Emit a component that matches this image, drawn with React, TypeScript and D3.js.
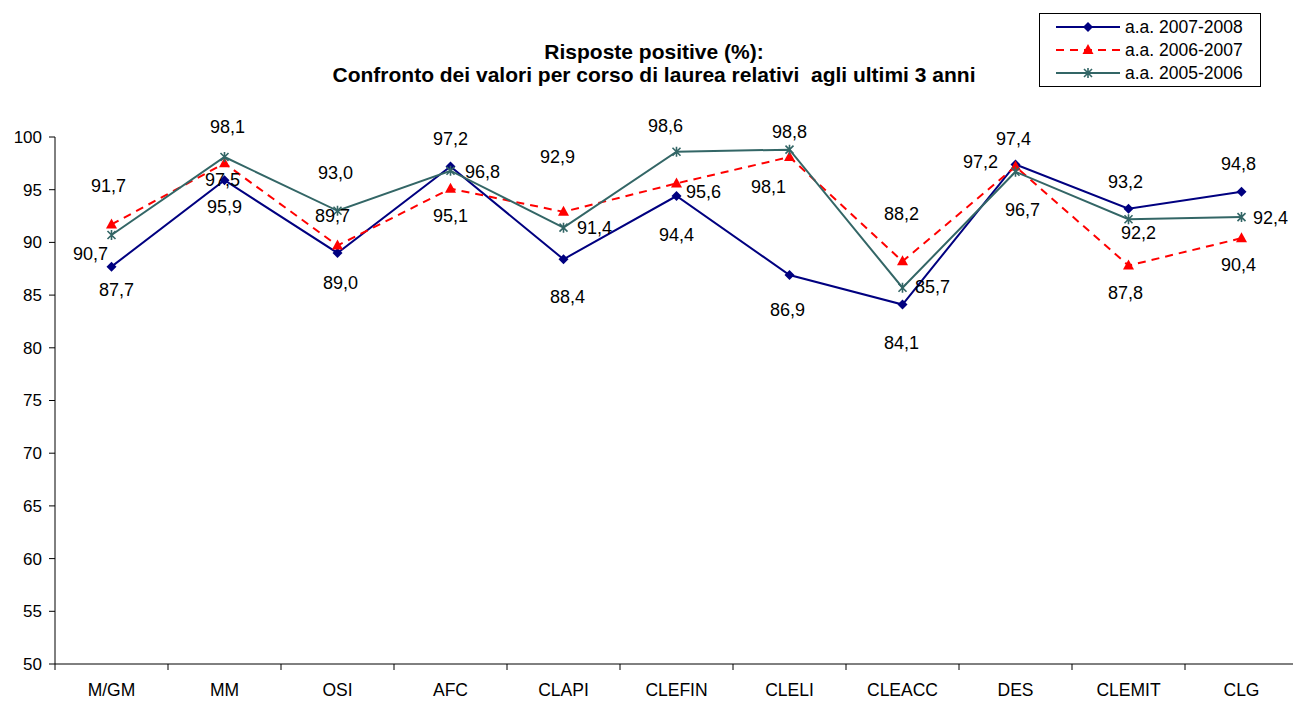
import * as d3 from "d3";

const categories = ["M/GM", "MM", "OSI", "AFC", "CLAPI", "CLEFIN", "CLELI", "CLEACC", "DES", "CLEMIT", "CLG"];
const values0708 = [87.7, 95.9, 89.0, 97.2, 88.4, 94.4, 86.9, 84.1, 97.4, 93.2, 94.8];
const values0607 = [91.7, 97.5, 89.7, 95.1, 92.9, 95.6, 98.1, 88.2, 97.2, 87.8, 90.4];
const values0506 = [90.7, 98.1, 93.0, 96.8, 91.4, 98.6, 98.8, 85.7, 96.7, 92.2, 92.4];
const seriesNames = ["a.a. 2007-2008", "a.a. 2006-2007", "a.a. 2005-2006"];
const yTicks = [50, 55, 60, 65, 70, 75, 80, 85, 90, 95, 100];

// label offsets (dx, dy) from each point, as placed in the original
const labelOffsets0708 = [[5, 23], [0, 26], [3, 30], [0, -28], [4, 37], [0, 39], [-2, 35], [-1, 38], [-2, -26], [-3, -27], [-3, -28]];
const labelOffsets0607 = [[-3, -39], [-2, 16], [-5, -30], [0, 27], [-6, -55], [27, 8], [-21, 30], [-1, -48], [-35, -5], [-3, 27], [-3, 27]];
const labelOffsets0506 = [[-21, 19], [3, -30], [-2, -38], [32, 1], [31, 0], [-11, -26], [0, -18], [30, -1], [7, 38], [10, 13], [29, 1]];

const W = 1293;
const H = 702;
const margin = { top: 137, right: -5, bottom: 38, left: 55 };
const font = "'Liberation Sans', Arial, sans-serif";

const x = d3
    .scaleBand()
    .domain(categories)
    .range([margin.left, W - margin.right]);
const y = d3
    .scaleLinear()
    .domain([50, 100])
    .range([H - margin.bottom, margin.top]);

const cx = (c: string) => (x(c) as number) + x.bandwidth() / 2;
const fmt = (v: number) => v.toFixed(1).replace(".", ",");

const series = [
    { name: seriesNames[0], values: values0708, offsets: labelOffsets0708, color: "#000080", dash: "none", marker: "diamond" },
    { name: seriesNames[1], values: values0607, offsets: labelOffsets0607, color: "#FF0000", dash: "8,6", marker: "triangle" },
    { name: seriesNames[2], values: values0506, offsets: labelOffsets0506, color: "#336666", dash: "none", marker: "star" },
];

const Marker = ({ type, color, px, py }: { type: string; color: string; px: number; py: number }) => {
    if (type === "diamond") {
        return <path d={`M${px},${py - 5}L${px + 5},${py}L${px},${py + 5}L${px - 5},${py}Z`} fill={color} />;
    }
    if (type === "triangle") {
        return <path d={`M${px},${py - 6}L${px + 5.5},${py + 4}L${px - 5.5},${py + 4}Z`} fill={color} />;
    }
    return (
        <path
            d={`M${px - 4},${py - 4}L${px + 4},${py + 4}M${px - 4},${py + 4}L${px + 4},${py - 4}M${px},${py - 5}L${px},${py + 5}`}
            stroke={color}
            strokeWidth={1.6}
            fill="none"
        />
    );
};

const App = () => {
    const line = d3
        .line<number>()
        .x((_, i) => cx(categories[i]))
        .y((d) => y(d));

    const x0 = margin.left;
    const yBase = y(50);

    return (
        <svg
            width={W}
            height={H}
            style={{ position: "absolute", left: 0, top: 0, background: "#fff" }}
            fontFamily={font}
        >
            {/* title */}
            <text x={654} y={59} textAnchor="middle" fontWeight="bold" fontSize={21}>
                Risposte positive (%):
            </text>
            <text x={654} y={82} textAnchor="middle" fontWeight="bold" fontSize={21} style={{ whiteSpace: "pre" }}>
                Confronto dei valori per corso di laurea relativi  agli ultimi 3 anni
            </text>

            {/* y axis */}
            <line x1={x0} x2={x0} y1={y(100)} y2={yBase} stroke="#000" strokeWidth={1} />
            {yTicks.map((t) => (
                <g key={t}>
                    <line x1={x0 - 6} x2={x0} y1={y(t)} y2={y(t)} stroke="#000" />
                    <text x={x0 - 13} y={y(t)} dy="0.35em" textAnchor="end" fontSize={17}>
                        {t}
                    </text>
                </g>
            ))}

            {/* x axis */}
            <line x1={x0} x2={W} y1={yBase} y2={yBase} stroke="#000" />
            {categories.map((c) => (
                <g key={c}>
                    <line x1={x(c) as number} x2={x(c) as number} y1={yBase} y2={yBase + 6} stroke="#000" />
                    <text x={cx(c)} y={yBase + 32} textAnchor="middle" fontSize={17.5}>
                        {c}
                    </text>
                </g>
            ))}

            {/* series */}
            {series.map((s) => (
                <g key={s.name}>
                    <path d={line(s.values) as string} fill="none" stroke={s.color} strokeWidth={2} strokeDasharray={s.dash} />
                    {s.values.map((v, i) => (
                        <Marker key={i} type={s.marker} color={s.color} px={cx(categories[i])} py={y(v)} />
                    ))}
                </g>
            ))}

            {/* data labels */}
            {series.map((s) => (
                <g key={s.name + "-labels"}>
                    {s.values.map((v, i) => (
                        <text
                            key={i}
                            x={cx(categories[i]) + s.offsets[i][0]}
                            y={y(v) + s.offsets[i][1]}
                            dy="0.35em"
                            textAnchor="middle"
                            fontSize={18}
                            fill="#000"
                        >
                            {fmt(v)}
                        </text>
                    ))}
                </g>
            ))}

            {/* legend */}
            <rect x={1039.5} y={13.5} width={221} height={73} fill="#fff" stroke="#000" />
            {series.map((s, i) => {
                const ly = 27 + i * 23;
                return (
                    <g key={s.name + "-legend"}>
                        <line x1={1056} x2={1120} y1={ly} y2={ly} stroke={s.color} strokeWidth={2} strokeDasharray={s.dash} />
                        <Marker type={s.marker} color={s.color} px={1088} py={ly} />
                        <text x={1125} y={ly} dy="0.35em" fontSize={17.5}>
                            {s.name}
                        </text>
                    </g>
                );
            })}
        </svg>
    );
};

export default App;
